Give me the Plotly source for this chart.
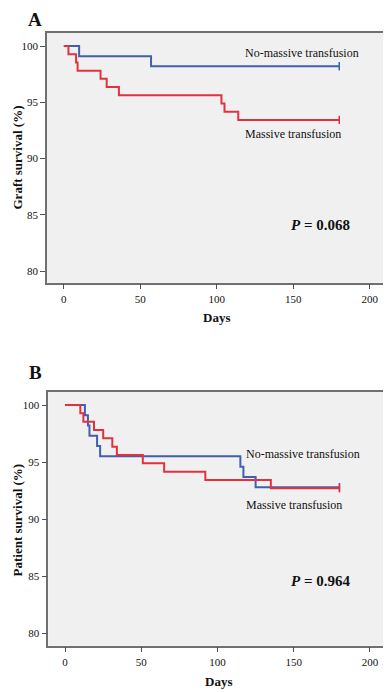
import plotly.graph_objects as go

# ---- Data ----
# Panel A: graft survival
a_days_no = [0, 10, 57, 180]
a_surv_no = [100, 99.1, 98.2, 98.2]
a_days_mt = [0, 3, 8, 9, 24, 28, 36, 103, 105, 114, 180]
a_surv_mt = [100, 99.27, 98.54, 97.81, 97.08, 96.35, 95.62, 94.89, 94.16, 93.43, 93.43]

# Panel B: patient survival
b_days_no = [0, 13, 15, 16, 21, 23, 115, 117, 125, 180]
b_surv_no = [100, 99.1, 98.2, 97.3, 96.4, 95.5, 94.6, 93.7, 92.8, 92.8]
b_days_mt = [0, 10, 12, 19, 25, 31, 34, 51, 65, 92, 135, 180]
b_surv_mt = [100, 99.27, 98.54, 97.81, 97.08, 96.35, 95.62, 94.89, 94.16, 93.43, 92.7, 92.7]

x_ticks = [0, 50, 100, 150, 200]
y_ticks = [80, 85, 90, 95, 100]
p_values = ["0.068", "0.964"]
panel_labels = ["A", "B"]
y_titles = ["Graft survival (%)", "Patient survival (%)"]
group_names = ["No-massive transfusion", "Massive transfusion"]

BLUE = "#3f5fb3"
RED = "#e2323f"
FONT = "Liberation Serif"
OFF = 8                      # default page body margin
W, H = 391 - OFF, 692 - OFF  # figure size so that it ends at the window edge


def px(x):
    return (x - OFF) / W


def py(y):
    return 1 - (y - OFF) / H


fig = go.Figure()

panels = [
    (a_days_no, a_surv_no, a_days_mt, a_surv_mt, "x", "y"),
    (b_days_no, b_surv_no, b_days_mt, b_surv_mt, "x2", "y2"),
]
for dn, sn, dm, sm, xa, ya in panels:
    fig.add_trace(go.Scatter(x=dn, y=sn, mode="lines", line=dict(color=BLUE, width=2, shape="hv"),
                             xaxis=xa, yaxis=ya, showlegend=False, name=group_names[0]))
    fig.add_trace(go.Scatter(x=dm, y=sm, mode="lines", line=dict(color=RED, width=2, shape="hv"),
                             xaxis=xa, yaxis=ya, showlegend=False, name=group_names[1]))
    fig.add_trace(go.Scatter(x=[dn[-1]], y=[sn[-1]], mode="markers",
                             marker=dict(symbol="line-ns", size=6, line=dict(color=BLUE, width=1.5)),
                             xaxis=xa, yaxis=ya, showlegend=False))
    fig.add_trace(go.Scatter(x=[dm[-1]], y=[sm[-1]], mode="markers",
                             marker=dict(symbol="line-ns", size=6, line=dict(color=RED, width=1.5)),
                             xaxis=xa, yaxis=ya, showlegend=False))

axis_common = dict(
    showline=True, mirror=True, linecolor="#707070", linewidth=1.5,
    ticks="outside", ticklen=5, tickwidth=1, tickcolor="#505050",
    showgrid=False, zeroline=False,
    tickfont=dict(family=FONT, size=11, color="#111"),
)
xdom_a = [px(47), px(386.7)]
xdom_b = [px(48.3), px(386.7)]
ydom_a = [py(282.7), py(32.5)]
ydom_b = [py(645.7), py(391.7)]

fig.update_layout(
    width=W, height=H,
    margin=dict(l=0, r=0, t=0, b=0),
    paper_bgcolor="white",
    plot_bgcolor="#f0f0f0",
    xaxis=dict(domain=xdom_a, range=[-11, 211], tickvals=x_ticks, anchor="y", **axis_common),
    yaxis=dict(domain=ydom_a, range=[78.96, 101.2], tickvals=y_ticks, anchor="x", **axis_common),
    xaxis2=dict(domain=xdom_b, range=[-11, 211], tickvals=x_ticks, anchor="y2", **axis_common),
    yaxis2=dict(domain=ydom_b, range=[78.9, 101.17], tickvals=y_ticks, anchor="x2", **axis_common),
)

C = dict(xanchor="center", yanchor="middle", showarrow=False)
ann = []
txt = dict(family=FONT, size=12, color="#111")
# Group labels
ann += [
    dict(x=155.6, y=99.35, xref="x", yref="y", text=group_names[0], font=txt, **C),
    dict(x=150, y=92.15, xref="x", yref="y", text=group_names[1], font=txt, **C),
    dict(x=155.8, y=95.74, xref="x2", yref="y2", text=group_names[0], font=txt, **C),
    dict(x=150.3, y=91.27, xref="x2", yref="y2", text=group_names[1], font=txt, **C),
]
# P values
ann += [
    dict(x=167.5, y=84.1, xref="x", yref="y", text="<b><i>P</i> = " + p_values[0] + "</b>",
         font=dict(family=FONT, size=15, color="#111"), **C),
    dict(x=167.5, y=84.56, xref="x2", yref="y2", text="<b><i>P</i> = " + p_values[1] + "</b>",
         font=dict(family=FONT, size=15, color="#111"), **C),
]
# Panel letters
ann += [
    dict(x=px(35), y=py(19), xref="paper", yref="paper", text="<b>" + panel_labels[0] + "</b>",
         font=dict(family=FONT, size=19, color="#111"), **C),
    dict(x=px(35), y=py(373), xref="paper", yref="paper", text="<b>" + panel_labels[1] + "</b>",
         font=dict(family=FONT, size=19, color="#111"), **C),
]
# Axis titles
ann += [
    dict(x=px(217), y=py(317), xref="paper", yref="paper", text="<b>Days</b>",
         font=dict(family=FONT, size=13, color="#111"), **C),
    dict(x=px(218), y=py(681.5), xref="paper", yref="paper", text="<b>Days</b>",
         font=dict(family=FONT, size=13, color="#111"), **C),
    dict(x=px(16.5), y=py(158), xref="paper", yref="paper", text="<b>" + y_titles[0] + "</b>",
         textangle=-90, font=dict(family=FONT, size=13, color="#111"), **C),
    dict(x=px(16.5), y=py(520), xref="paper", yref="paper", text="<b>" + y_titles[1] + "</b>",
         textangle=-90, font=dict(family=FONT, size=13, color="#111"), **C),
]
fig.update_layout(annotations=ann)

fig.write_html("out.html")
